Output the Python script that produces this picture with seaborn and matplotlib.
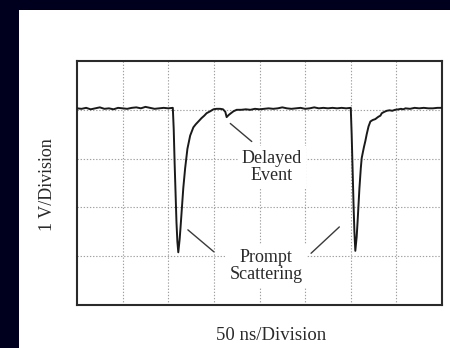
import numpy as np
import pandas as pd
import matplotlib
matplotlib.use("Agg")
import matplotlib.pyplot as plt
import seaborn as sns

# Oscilloscope trace, in screen divisions (x: 50 ns/div, y: 1 V/div)
base1_x = [0.0, 0.1, 0.2, 0.3, 0.4, 0.5, 0.6, 0.7, 0.8, 0.9, 1.0, 1.1,
           1.2, 1.3, 1.4, 1.5, 1.6, 1.7, 1.8, 1.9, 2.0, 2.1]
base1_y = [4.03, 4.02, 4.04, 4.01, 4.03, 4.05, 4.02, 4.03, 4.01, 4.04, 4.03, 4.02,
           4.04, 4.05, 4.03, 4.06, 4.04, 4.02, 4.03, 4.04, 4.03, 4.04]

pulse1_x = [2.12, 2.14, 2.16, 2.18, 2.20, 2.22, 2.25, 2.27, 2.30, 2.33, 2.37, 2.42,
            2.48, 2.55, 2.60, 2.66, 2.73, 2.79, 2.84, 2.92, 2.99, 3.06, 3.14, 3.20,
            3.25, 3.28, 3.32, 3.36, 3.43, 3.50]
pulse1_y = [3.60, 2.90, 2.30, 1.70, 1.30, 1.08, 1.35, 1.60, 2.00, 2.40, 2.80, 3.20,
            3.47, 3.64, 3.70, 3.76, 3.83, 3.88, 3.93, 3.97, 4.01, 4.02, 4.02, 4.01,
            3.96, 3.85, 3.89, 3.92, 3.97, 4.00]

base2_x = [3.6, 3.7, 3.8, 3.9, 4.0, 4.1, 4.2, 4.3, 4.4, 4.5, 4.6, 4.7, 4.8,
           4.9, 5.0, 5.1, 5.2, 5.3, 5.4, 5.5, 5.6, 5.7, 5.8, 5.9, 6.0]
base2_y = [4.00, 4.01, 4.00, 4.02, 4.01, 4.02, 4.03, 4.02, 4.03, 4.05, 4.03, 4.02, 4.03,
           4.04, 4.02, 4.03, 4.05, 4.03, 4.04, 4.03, 4.04, 4.03, 4.04, 4.03, 4.04]

pulse2_x = [6.02, 6.04, 6.06, 6.08, 6.10, 6.13, 6.15, 6.17, 6.19, 6.22, 6.24, 6.27,
            6.29, 6.32, 6.35, 6.39, 6.43, 6.48, 6.54, 6.58, 6.61, 6.65, 6.68, 6.74,
            6.79, 6.85, 6.91, 6.97]
pulse2_y = [3.50, 2.80, 2.10, 1.50, 1.11, 1.40, 1.71, 2.05, 2.39, 2.80, 3.01, 3.15,
            3.24, 3.36, 3.50, 3.66, 3.76, 3.79, 3.81, 3.84, 3.86, 3.88, 3.93, 3.96,
            3.98, 3.99, 3.98, 4.00]

base3_x = [7.05, 7.1, 7.15, 7.2, 7.3, 7.4, 7.5, 7.6, 7.7, 7.8, 7.9, 8.0]
base3_y = [4.01, 4.02, 4.01, 4.03, 4.02, 4.04, 4.03, 4.04, 4.03, 4.03, 4.04, 4.04]

trace = pd.DataFrame({
    "t": base1_x + pulse1_x + base2_x + pulse2_x + base3_x,
    "v": base1_y + pulse1_y + base2_y + pulse2_y + base3_y,
})

x_divisions = 8
y_divisions = 5

sns.set_style("white")
plt.rcParams["font.family"] = ["Liberation Serif", "DejaVu Serif"]

fig = plt.figure(figsize=(4.5, 3.48), dpi=100)
fig.patch.set_facecolor("#00001e")
# white page behind the scope screen
fig.add_artist(plt.Rectangle((19 / 450, 0), 1 - 19 / 450, 1 - 10 / 348,
                             transform=fig.transFigure, facecolor="white",
                             edgecolor="none", zorder=0))

ax = fig.add_axes([77 / 450, 1 - 305 / 348, 365 / 450, 244 / 348])
ax.set_facecolor("white")

sns.lineplot(data=trace, x="t", y="v", ax=ax, sort=False, estimator=None,
             color="#1a1a1a", linewidth=1.4, zorder=3)

ax.set_xlim(0, x_divisions)
ax.set_ylim(0, y_divisions)
ax.set_xticks(np.arange(1, x_divisions))
ax.set_yticks(np.arange(1, y_divisions))
ax.tick_params(length=0, labelbottom=False, labelleft=False)
ax.grid(True, color="#a0a0a0", linestyle=(0, (1.2, 1.6)), linewidth=0.8, zorder=1)
ax.set_xlabel("")
ax.set_ylabel("")
for s in ax.spines.values():
    s.set_color("#2a2a2a")
    s.set_linewidth(1.5)
    s.set_visible(True)

label_box = dict(facecolor="white", edgecolor="none", pad=3)
ax.text(4.27, 2.83, "Delayed\nEvent", ha="center", va="center", fontsize=13,
        color="#2a2a2a", linespacing=1.0, bbox=label_box, zorder=4)
ax.text(4.14, 0.79, "Prompt\nScattering", ha="center", va="center", fontsize=13,
        color="#2a2a2a", linespacing=1.0, bbox=label_box, zorder=4)

leader = dict(color="#3a3a3a", linewidth=1.0, zorder=5)
ax.plot([3.36, 3.83], [3.72, 3.35], **leader)
ax.plot([2.43, 3.00], [1.54, 1.09], **leader)
ax.plot([5.13, 5.75], [1.06, 1.60], **leader)

fig.text(271.5 / 450, 1 - 336 / 348, "50 ns/Division", ha="center", va="center",
         fontsize=13.5, color="#2a2a2a")
fig.text(47 / 450, 1 - 185 / 348, "1 V/Division", ha="center", va="center",
         rotation=90, fontsize=13, color="#2a2a2a")

fig.savefig("out.png", dpi=100, facecolor=fig.get_facecolor())
